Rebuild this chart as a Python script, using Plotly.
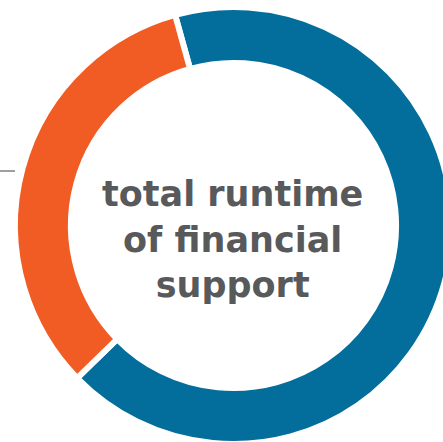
import plotly.graph_objects as go

# Data
labels = ["Funded period", "Remaining period"]
values = [67, 33]
colors = ["#036e9b", "#f15b24"]
center_text = ["total runtime", "of financial", "support"]

# Layout constants (pixels)
W, H = 455, 446
cx, cy, R = 233.5, 225.5, 218.5

fig = go.Figure(go.Pie(
    labels=labels,
    values=values,
    hole=0.744,
    sort=False,
    direction="clockwise",
    rotation=-15.5,
    marker=dict(colors=colors, line=dict(color="white", width=6)),
    textinfo="none",
    hoverinfo="skip",
    showlegend=False,
    domain=dict(x=[(cx - R) / W, (cx + R) / W],
                y=[(H - (cy + R)) / H, (H - (cy - R)) / H]),
))

fig.add_annotation(
    text="<b>" + "<br>".join(center_text) + "</b>",
    x=(cx - 1) / W, y=(H - 239) / H, xref="paper", yref="paper",
    xanchor="center", yanchor="middle", showarrow=False,
    font=dict(family="DejaVu Sans", size=35, color="#58595b"),
)

fig.add_shape(type="line", xref="paper", yref="paper",
              x0=0, x1=15 / W, y0=(H - 171) / H, y1=(H - 171) / H,
              line=dict(color="#7f7f7f", width=1.5))

fig.update_layout(
    width=W, height=H, autosize=False,
    margin=dict(l=0, r=0, t=0, b=0),
    paper_bgcolor="white", plot_bgcolor="white",
)

fig.write_html("out.html")
